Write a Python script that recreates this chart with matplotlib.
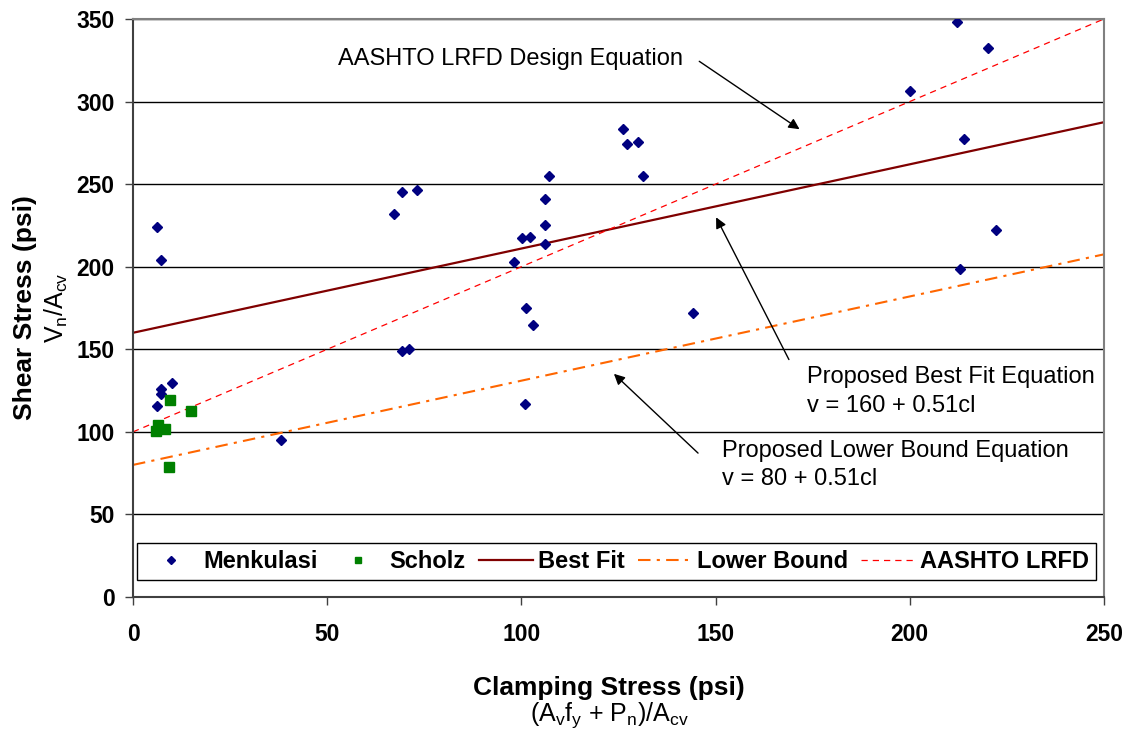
import numpy as np
import matplotlib
matplotlib.use("Agg")
import matplotlib.pyplot as plt

plt.rcParams['font.family'] = ['Liberation Sans', 'DejaVu Sans']
plt.rcParams['mathtext.fontset'] = 'custom'
plt.rcParams['mathtext.rm'] = 'Liberation Sans'
plt.rcParams['mathtext.it'] = 'Liberation Sans'
plt.rcParams['mathtext.bf'] = 'Liberation Sans:bold'

# Menkulasi test results (clamping stress, shear stress)
menk_x = [6.3, 7.2, 10.0, 7.1, 7.1, 6.1, 38.1, 67.3, 69.2, 73.1, 69.2, 71.1,
          98.1, 100.1, 102.2, 106.1, 106.1, 106.1, 107.2, 101.1, 103.1, 101.0,
          126.2, 127.1, 130.1, 131.2, 144.1, 200.0, 212.1, 220.1, 214.0, 212.9, 222.1]
menk_y = [224.3, 204.1, 129.8, 125.8, 122.8, 115.9, 95.1, 232.0, 245.1, 246.3, 149.2, 150.0,
          202.9, 217.3, 218.2, 214.0, 225.1, 241.1, 255.0, 174.9, 164.9, 117.0,
          283.3, 274.2, 275.4, 255.0, 172.2, 306.3, 348.0, 332.3, 277.2, 198.5, 222.1]

# Scholz test results
scholz_x = [9.6, 14.9, 6.4, 5.9, 8.2, 9.2]
scholz_y = [119.1, 112.7, 104.0, 100.7, 101.8, 78.9]

# design equations: v = intercept + slope * clamping stress
x_line = np.array([0, 250])
best_fit = 160 + 0.51 * x_line
lower_bound = 80 + 0.51 * x_line
aashto = 100 + 1.0 * x_line

fig = plt.figure(figsize=(11.3, 7.29), dpi=100)
ax = fig.add_axes([0.1177, 0.181, 0.8593, 0.793])

for yv in range(50, 351, 50):
    ax.axhline(yv, color='black', lw=1.0, zorder=0)

ax.plot(x_line, best_fit, color='#800000', lw=1.6, label='Best Fit', zorder=2)
ax.plot(x_line, lower_bound, color='#FF6600', lw=1.5, dashes=(6, 3, 1.5, 3),
        label='Lower Bound', zorder=2)
ax.plot(x_line, aashto, color='#FF0000', lw=0.9, dashes=(5, 4),
        label='AASHTO LRFD', zorder=2)
ax.plot(menk_x, menk_y, 'D', color='#000080', ms=5.6, ls='none',
        label='Menkulasi', zorder=3)
ax.plot(scholz_x, scholz_y, 's', color='#008000', ms=7, ls='none',
        label='Scholz', zorder=3)

ax.set_xlim(0, 250)
ax.set_ylim(0, 350)
ax.set_xticks(range(0, 251, 50))
ax.set_yticks(range(0, 351, 50))
ax.tick_params(direction='out', length=6, width=1, color='#404040', labelsize=16.5)
ax.tick_params(axis='x', pad=12.5)
ax.tick_params(axis='y', pad=7.3)
for lab in ax.get_xticklabels() + ax.get_yticklabels():
    lab.set_fontweight('bold')
for side in ['top', 'right']:
    ax.spines[side].set_color('#808080')
    ax.spines[side].set_linewidth(1.5)
for side in ['left', 'bottom']:
    ax.spines[side].set_color('#404040')
    ax.spines[side].set_linewidth(1.5)

# axis titles
fig.text(0.539, 0.056, 'Clamping Stress (psi)', ha='center', va='center',
         fontsize=19, fontweight='bold')
fig.text(0.539, 0.019, r'(A$_\mathregular{v}$f$_\mathregular{y}$ + P$_\mathregular{n}$)/A$_\mathregular{cv}$',
         ha='center', va='center', fontsize=18)
fig.text(0.022, 0.578, 'Shear Stress (psi)', ha='center', va='center',
         fontsize=19, fontweight='bold', rotation=90)
fig.text(0.050, 0.578, r'V$_\mathregular{n}$/A$_\mathregular{cv}$', ha='center', va='center',
         fontsize=18, rotation=90)

# equation callouts
arrow = dict(arrowstyle='-|>', color='black', lw=1.0, mutation_scale=16)
ax.annotate('', xy=(172.2, 282.3), xytext=(145.2, 325.3), arrowprops=arrow)
ax.text(97.2, 325.9, 'AASHTO LRFD Design Equation', ha='center', va='center', fontsize=17)
ax.annotate('', xy=(149.8, 231.4), xytext=(169.2, 142.3), arrowprops=arrow)
ax.text(173.6, 129.4, 'Proposed Best Fit Equation', ha='left', va='baseline', fontsize=17)
ax.text(173.6, 112.2, 'v = 160 + 0.51cl', ha='left', va='baseline', fontsize=17)
ax.annotate('', xy=(123.3, 136.3), xytext=(146.0, 86.0), arrowprops=arrow)
ax.text(151.6, 85.0, 'Proposed Lower Bound Equation', ha='left', va='baseline', fontsize=17)
ax.text(151.6, 67.8, 'v = 80 + 0.51cl', ha='left', va='baseline', fontsize=17)

handles, labels = ax.get_legend_handles_labels()
order = [3, 4, 0, 1, 2]
leg = ax.legend([handles[i] for i in order], [labels[i] for i in order],
                loc='center', bbox_to_anchor=(0.498, 0.0615), ncol=5,
                frameon=True, fancybox=False, edgecolor='black', framealpha=1,
                prop={'weight': 'bold', 'size': 17}, handlelength=2.3,
                columnspacing=0.55, handletextpad=0.2, borderpad=0.3,
                markerscale=0.7)
leg.get_frame().set_linewidth(1.0)
leg.set_zorder(5)

fig.savefig('out.png', dpi=100)
